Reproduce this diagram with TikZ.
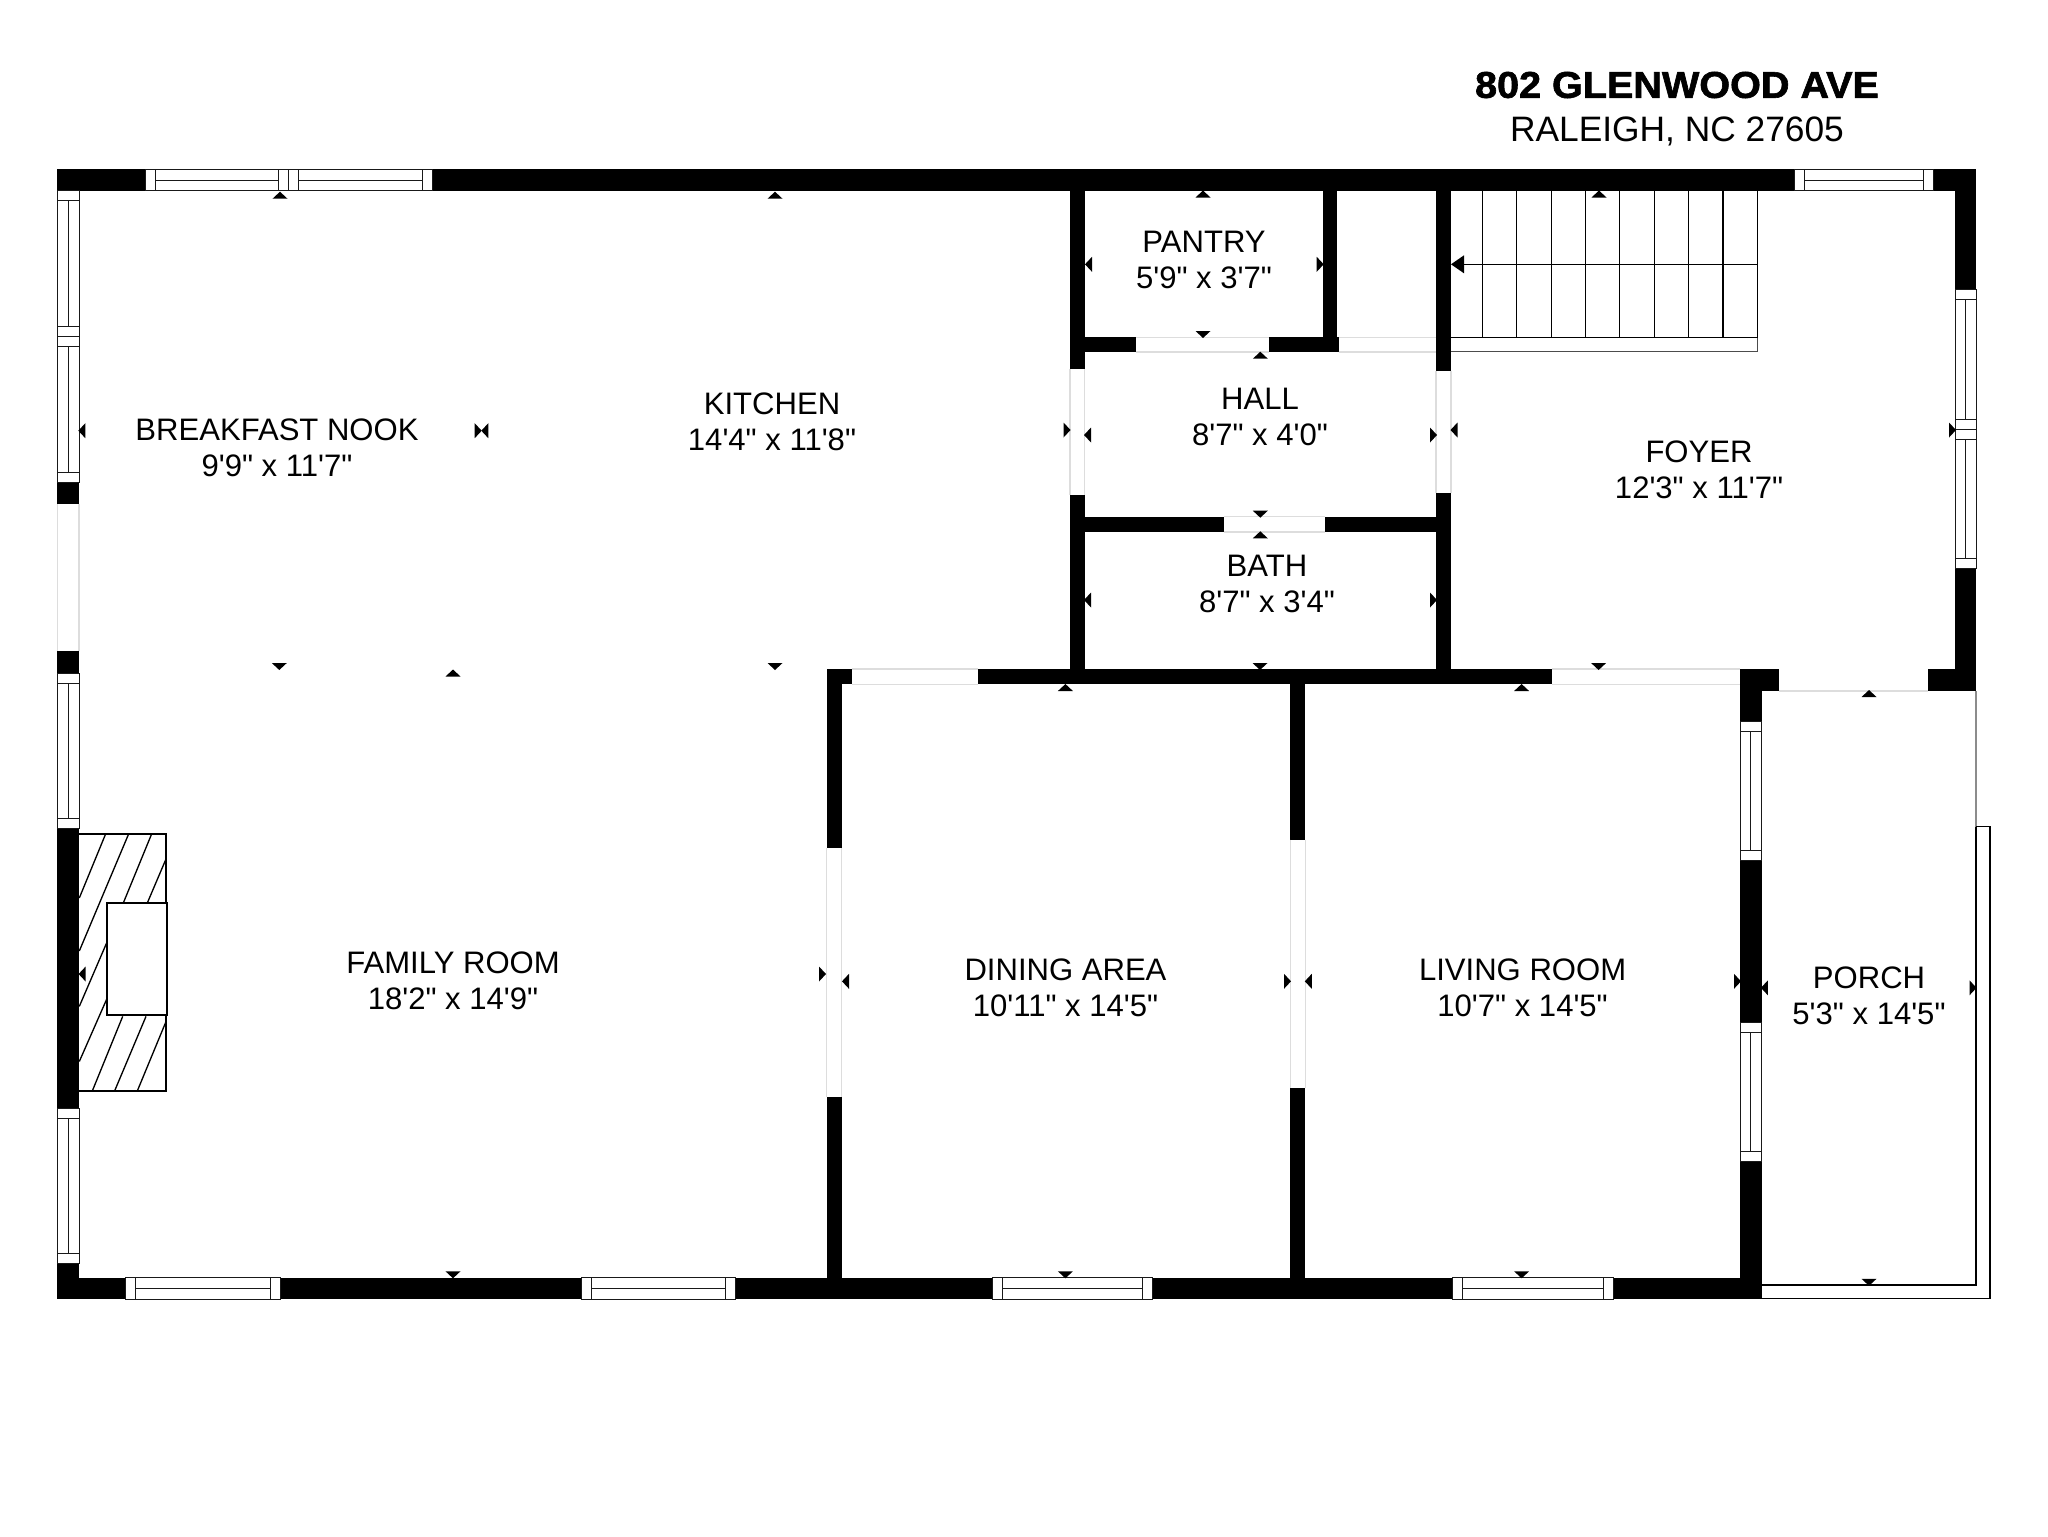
\documentclass[tikz,border=0pt]{standalone}
\usepackage{fontspec}
\newfontfamily\planfont[BoldFeatures={FakeBold=1.6}]{Liberation Sans}
\usetikzlibrary{arrows}
\definecolor{openline}{HTML}{DDDDDD}
\tikzset{
  wallfill/.style={fill=black},
  frameline/.style={draw=black,line width=1pt},
  winline/.style={draw=black!90,line width=0.75pt},
  openfill/.style={fill=white},
  openedge/.style={draw=openline,line width=0.8pt},
  roomlabel/.style={anchor=center,inner sep=0.75pt,align=center,font=\planfont\fontsize{23.3}{27}\selectfont},
}
% window in a horizontal wall: x1, x2, y1, y2
\newcommand{\hwin}[4]{
  \fill[white] (#1,#3) rectangle (#2,#4);
  \draw[winline] (#1,#3) rectangle (#2,#4);
  \draw[winline] ({#1+10},#3) -- ({#1+10},#4);
  \draw[winline] ({#2-10},#3) -- ({#2-10},#4);
  \draw[winline] ({#1+10},{(#3+#4)/2}) -- ({#2-10},{(#3+#4)/2});
}
% window in a vertical wall: y1, y2, x1, x2
\newcommand{\vwin}[4]{
  \fill[white] (#3,#1) rectangle (#4,#2);
  \draw[winline] (#3,#1) rectangle (#4,#2);
  \draw[winline] (#3,{#1+10}) -- (#4,{#1+10});
  \draw[winline] (#3,{#2-10}) -- (#4,{#2-10});
  \draw[winline] ({(#3+#4)/2},{#1+10}) -- ({(#3+#4)/2},{#2-10});
}
\begin{document}
\begin{tikzpicture}[x=0.75pt,y=0.75pt,yscale=-1,xscale=1]
\path[use as bounding box] (0,0) rectangle (2048,1536);

%Walls
\foreach \xa/\ya/\xb/\yb in {57.3/169.3/1976/190.7, 57.3/169.3/79/1299, 57.3/1277.5/1761.7/1299,
    1955/169.3/1976/691, 1928.3/669/1976/691, 826.8/669/1740/684.2, 1740/669/1761.7/1299,
    1740/669/1779.3/691, 826.8/669/841.8/1299, 1290.4/669/1305.4/1299, 1070/190/1084.7/669,
    1436/190/1451/669, 1322.7/190/1337/352, 1070/337.3/1338.7/352, 1070/516.7/1451/532}
  \fill[wallfill] (\xa,\ya) rectangle (\xb,\yb);

%Openings in vertical walls
\foreach \xa/\xb/\ya/\yb in {57.3/79/504.3/650.8, 826.8/841.8/848/1096.6, 1290.4/1305.4/839.5/1088,
    1070/1084.7/369.3/495.3, 1436/1451/370.7/492.7} {
  \fill[openfill] (\xa,\ya) rectangle (\xb,\yb);
  \draw[openedge] (\xa,\ya) -- (\xa,\yb);
  \draw[openedge] (\xb,\ya) -- (\xb,\yb);
}
%Openings in horizontal walls
\foreach \xa/\xb/\ya/\yb in {1136/1268.7/337.3/352, 1338.7/1436/337.3/352, 1223.7/1325.3/516.7/532,
    851.8/977.9/669/684.2, 1552/1740/669/684.2} {
  \fill[openfill] (\xa,\ya) rectangle (\xb,\yb);
  \draw[openedge] (\xa,\ya) -- (\xb,\ya);
  \draw[openedge] (\xa,\yb) -- (\xb,\yb);
}

%Windows
\hwin{145}{288.3}{169.3}{190.7}
\hwin{288.3}{432.7}{169.3}{190.7}
\hwin{1794}{1933}{169.3}{190.7}
\hwin{125}{280}{1277.5}{1299}
\hwin{581}{735}{1277.5}{1299}
\hwin{992.7}{1152.5}{1277.5}{1299}
\hwin{1452}{1613}{1277.5}{1299}
\vwin{190.7}{336.7}{57.3}{79}
\vwin{336.7}{482.3}{57.3}{79}
\vwin{673.4}{828.6}{57.3}{79}
\vwin{1108.3}{1263.6}{57.3}{79}
\vwin{289.3}{429}{1955}{1976}
\vwin{429}{568.7}{1955}{1976}
\vwin{721}{860.3}{1740}{1761.7}
\vwin{1022.5}{1161.3}{1740}{1761.7}

%Stairs
\foreach \xa in {1482.4,1516.8,1551.3,1585.7,1619.8,1654.2,1688.7,1723.1,1757.5}
  \draw[frameline] (\xa,190.7) -- (\xa,337.7);
\draw[frameline] (1451,337.7) -- (1757.5,337.7);
\draw[frameline] (1462,264.3) -- (1757.5,264.3);
\draw[draw=black!70,line width=1pt] (1451,351.7) -- (1757.5,351.7) -- (1757.5,337.7);
\fill (1451,264.3) -- (1464,255.3) -- (1464,273.3) -- cycle;

%Fireplace
\draw[line width=1.5pt] (79,833.8) -- (166,833.8) -- (166,1091) -- (79,1091);
\foreach \xa/\ya/\xb/\yb in {79.3/898/105.7/833.8, 79.3/951/128.7/833.8, 123.3/903/151.7/833.8,
    147.3/903/166/859, 79.3/1006.4/107.3/941.4, 79.3/1061.5/107.3/997.8, 92.7/1090/122.7/1016.4,
    115/1090/146/1016.4, 137.7/1090/166/1021.6}
  \draw[line width=1pt] (\xa,\ya) -- (\xb,\yb);
\draw[line width=1.5pt,fill=white] (107.3,903) rectangle (166.7,1015);

%Porch
\draw[openedge] (1779.3,691) -- (1928.3,691);
\draw[draw=black!45,line width=0.9pt] (1976,691) -- (1976,826.5);
\draw[frameline] (1976,826.5) -- (1976,1285) -- (1761.7,1285);
\draw[frameline] (1976,826.5) -- (1990,826.5) -- (1990,1298.3) -- (1761.7,1298.3);

%Dimension marks: base x, base y, direction x, direction y
\foreach \x/\y/\dx/\dy in {
    280/198.7/0/-1, 775/198.7/0/-1, 1203/197.5/0/-1, 1599/197.5/0/-1, 1260.3/358.7/0/-1,
    1260.3/538.3/0/-1, 1065.4/691/0/-1, 1521.6/691/0/-1, 1869/697/0/-1, 453/676.5/0/-1,
    279.3/663/0/1, 775/663/0/1, 1260/663/0/1, 1598.6/663/0/1, 1203/331/0/1, 1260.3/510.7/0/1,
    453/1271.3/0/1, 1065.4/1271.3/0/1, 1521.6/1271.3/0/1, 1869/1278.8/0/1,
    85.3/430.7/-1/0, 488.3/430.7/-1/0, 1091/435/-1/0, 1457.5/430/-1/0, 1092/264.3/-1/0,
    1091/600/-1/0, 85.6/974/-1/0, 849/981.3/-1/0, 1311.8/981.3/-1/0, 1767.9/987.8/-1/0,
    474.7/430.7/1/0, 1063.5/430/1/0, 1430/435/1/0, 1949/430/1/0, 1316.7/264.3/1/0,
    1430/600/1/0, 819/974/1/0, 1284/981.3/1/0, 1734/981.3/1/0, 1969.5/987.8/1/0}
  \fill ({\x+\dy*7.5},{\y+\dx*7.5}) -- ({\x-\dy*7.5},{\y-\dx*7.5}) -- ({\x+\dx*7},{\y+\dy*7}) -- cycle;

% Text Node
\draw (1677,85) node (street) [anchor=center,inner sep=0.75pt,xscale=1.06,font=\planfont\bfseries\fontsize{28}{32}\selectfont] {802 GLENWOOD AVE};
% Text Node
\draw (1677,131) node (city) [anchor=center,inner sep=0.75pt,font=\planfont\fontsize{26.5}{30}\selectfont] {RALEIGH, NC 27605};
% Text Node
\draw (277,448) node (nook) [roomlabel] {BREAKFAST NOOK\\9'9" x 11'7"};
% Text Node
\draw (772,422) node (kitchen) [roomlabel] {KITCHEN\\14'4" x 11'8"};
% Text Node
\draw (1204,260) node (pantry) [roomlabel] {PANTRY\\5'9" x 3'7"};
% Text Node
\draw (1260,417) node (hall) [roomlabel] {HALL\\8'7" x 4'0"};
% Text Node
\draw (1267,584) node (bath) [roomlabel] {BATH\\8'7" x 3'4"};
% Text Node
\draw (1699,470) node (foyer) [roomlabel] {FOYER\\12'3" x 11'7"};
% Text Node
\draw (453,981) node (family) [roomlabel] {FAMILY ROOM\\18'2" x 14'9"};
% Text Node
\draw (1065.5,987.5) node (dining) [roomlabel] {DINING AREA\\10'11" x 14'5"};
% Text Node
\draw (1522.6,987.5) node (living) [roomlabel] {LIVING ROOM\\10'7" x 14'5"};
% Text Node
\draw (1869,996) node (porch) [roomlabel] {PORCH\\5'3" x 14'5"};
\end{tikzpicture}
\end{document}
